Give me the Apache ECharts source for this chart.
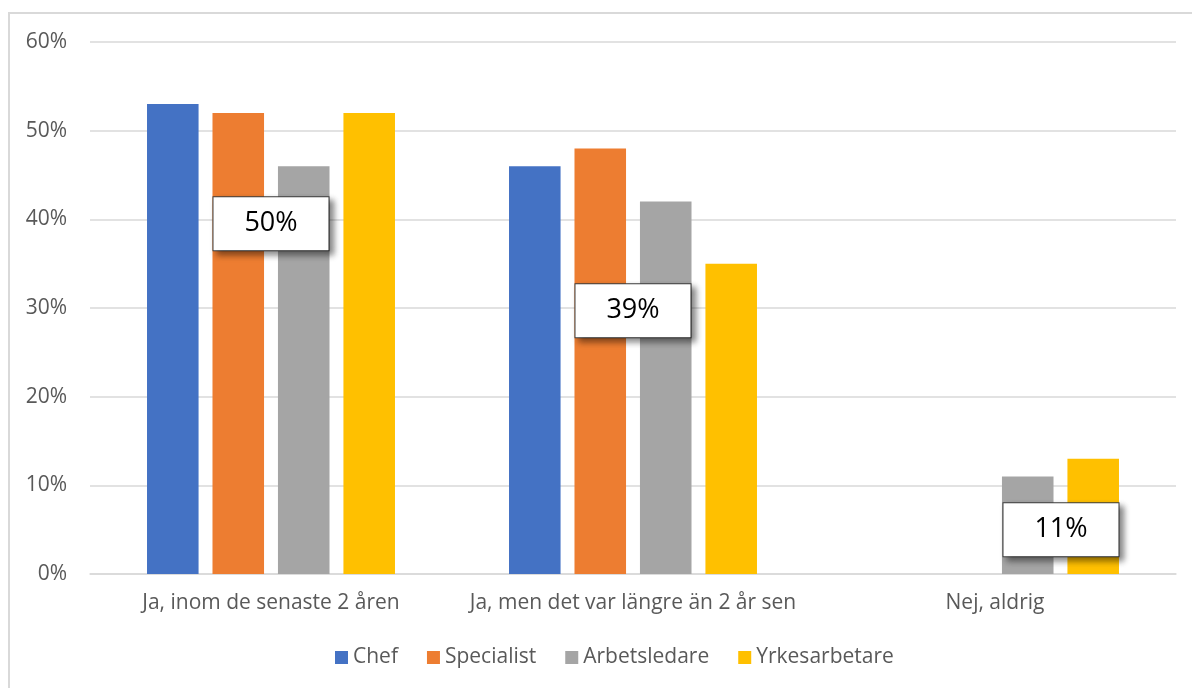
<!DOCTYPE html>
<html>
<head>
<meta charset="utf-8">
<script src="https://cdn.jsdelivr.net/npm/echarts@6/dist/echarts.min.js"></script>
<style>
  html, body { margin: 0; padding: 0; background: #ffffff; }
  #chart { width: 1192px; height: 688px; }
</style>
</head>
<body>
<div id="chart"></div>
<script>
// Answer categories
const categories = ['Ja, inom de senaste 2 åren', 'Ja, men det var längre än 2 år sen', 'Nej, aldrig'];
// Share per role group (%)
const chef = [53, 46, 0];
const specialist = [52, 48, 0];
const arbetsledare = [46, 42, 11];
const yrkesarbetare = [52, 35, 13];
// Overall share per answer, shown in the callout boxes (%)
const totals = [50, 39, 11];
// Vertical anchor of each callout box on the value axis (%)
const calloutLevel = [39.5, 29.7, 5];
// Y axis ticks
const yTicks = [0, 10, 20, 30, 40, 50, 60];

const font = '"Open Sans", "Noto Sans", sans-serif';
const textColor = '#595959';

const chart = echarts.init(document.getElementById('chart'), null, { renderer: 'canvas' });

function barSeries(name, data, color) {
  return {
    name: name,
    type: 'bar',
    data: data,
    barGap: '27%',
    barCategoryGap: '31.5%',
    itemStyle: { color: color },
    emphasis: { disabled: true }
  };
}

chart.setOption({
  animation: false,
  backgroundColor: '#ffffff',
  textStyle: { fontFamily: font },
  graphic: [{
    type: 'rect',
    shape: { x: 9, y: 13, width: 1300, height: 800 },
    style: { fill: 'none', stroke: '#d9d9d9', lineWidth: 2 },
    silent: true,
    z: -1
  }],
  grid: { left: 90, right: 16, top: 42, bottom: 114, containLabel: false },
  legend: {
    data: ['Chef', 'Specialist', 'Arbetsledare', 'Yrkesarbetare'],
    bottom: 15,
    left: 330,
    icon: 'rect',
    itemWidth: 13,
    itemHeight: 13,
    itemGap: 29,
    textStyle: { color: textColor, fontSize: 21, fontFamily: font }
  },
  xAxis: {
    type: 'category',
    data: categories,
    axisLine: { show: true, lineStyle: { color: '#d9d9d9', width: 1.5 } },
    axisTick: { show: false },
    axisLabel: { color: textColor, fontSize: 21, fontFamily: font, margin: 19, interval: 0 }
  },
  yAxis: {
    type: 'value',
    min: yTicks[0],
    max: yTicks[yTicks.length - 1],
    interval: 10,
    axisLine: { show: false },
    axisTick: { show: false },
    splitLine: { lineStyle: { color: '#d9d9d9', width: 1.5 } },
    axisLabel: { color: textColor, fontSize: 21, fontFamily: font, margin: 23, formatter: '{value}%' }
  },
  series: [
    barSeries('Chef', chef, '#4472C4'),
    barSeries('Specialist', specialist, '#ED7D31'),
    barSeries('Arbetsledare', arbetsledare, '#A5A5A5'),
    barSeries('Yrkesarbetare', yrkesarbetare, '#FFC000'),
    {
      name: 'Totalt',
      type: 'scatter',
      z: 10,
      symbolSize: 0,
      silent: true,
      itemStyle: { opacity: 1 },
      data: totals.map((t, i) => ({
        value: [i, calloutLevel[i]],
        total: t,
        label: i === 2 ? { offset: [66, 0] } : {}
      })),
      label: {
        show: true,
        position: 'inside',
        formatter: p => p.data.total + '%',
        color: '#000000',
        fontSize: 27,
        fontFamily: font,
        backgroundColor: '#ffffff',
        borderColor: '#404040',
        borderWidth: 1,
        width: 115,
        height: 53,
        lineHeight: 53,
        align: 'center',
        verticalAlign: 'middle',
        opacity: 1,
        shadowColor: 'rgba(0,0,0,0.45)',
        shadowBlur: 6,
        shadowOffsetX: 4,
        shadowOffsetY: 4
      }
    }
  ]
});
</script>
</body>
</html>
